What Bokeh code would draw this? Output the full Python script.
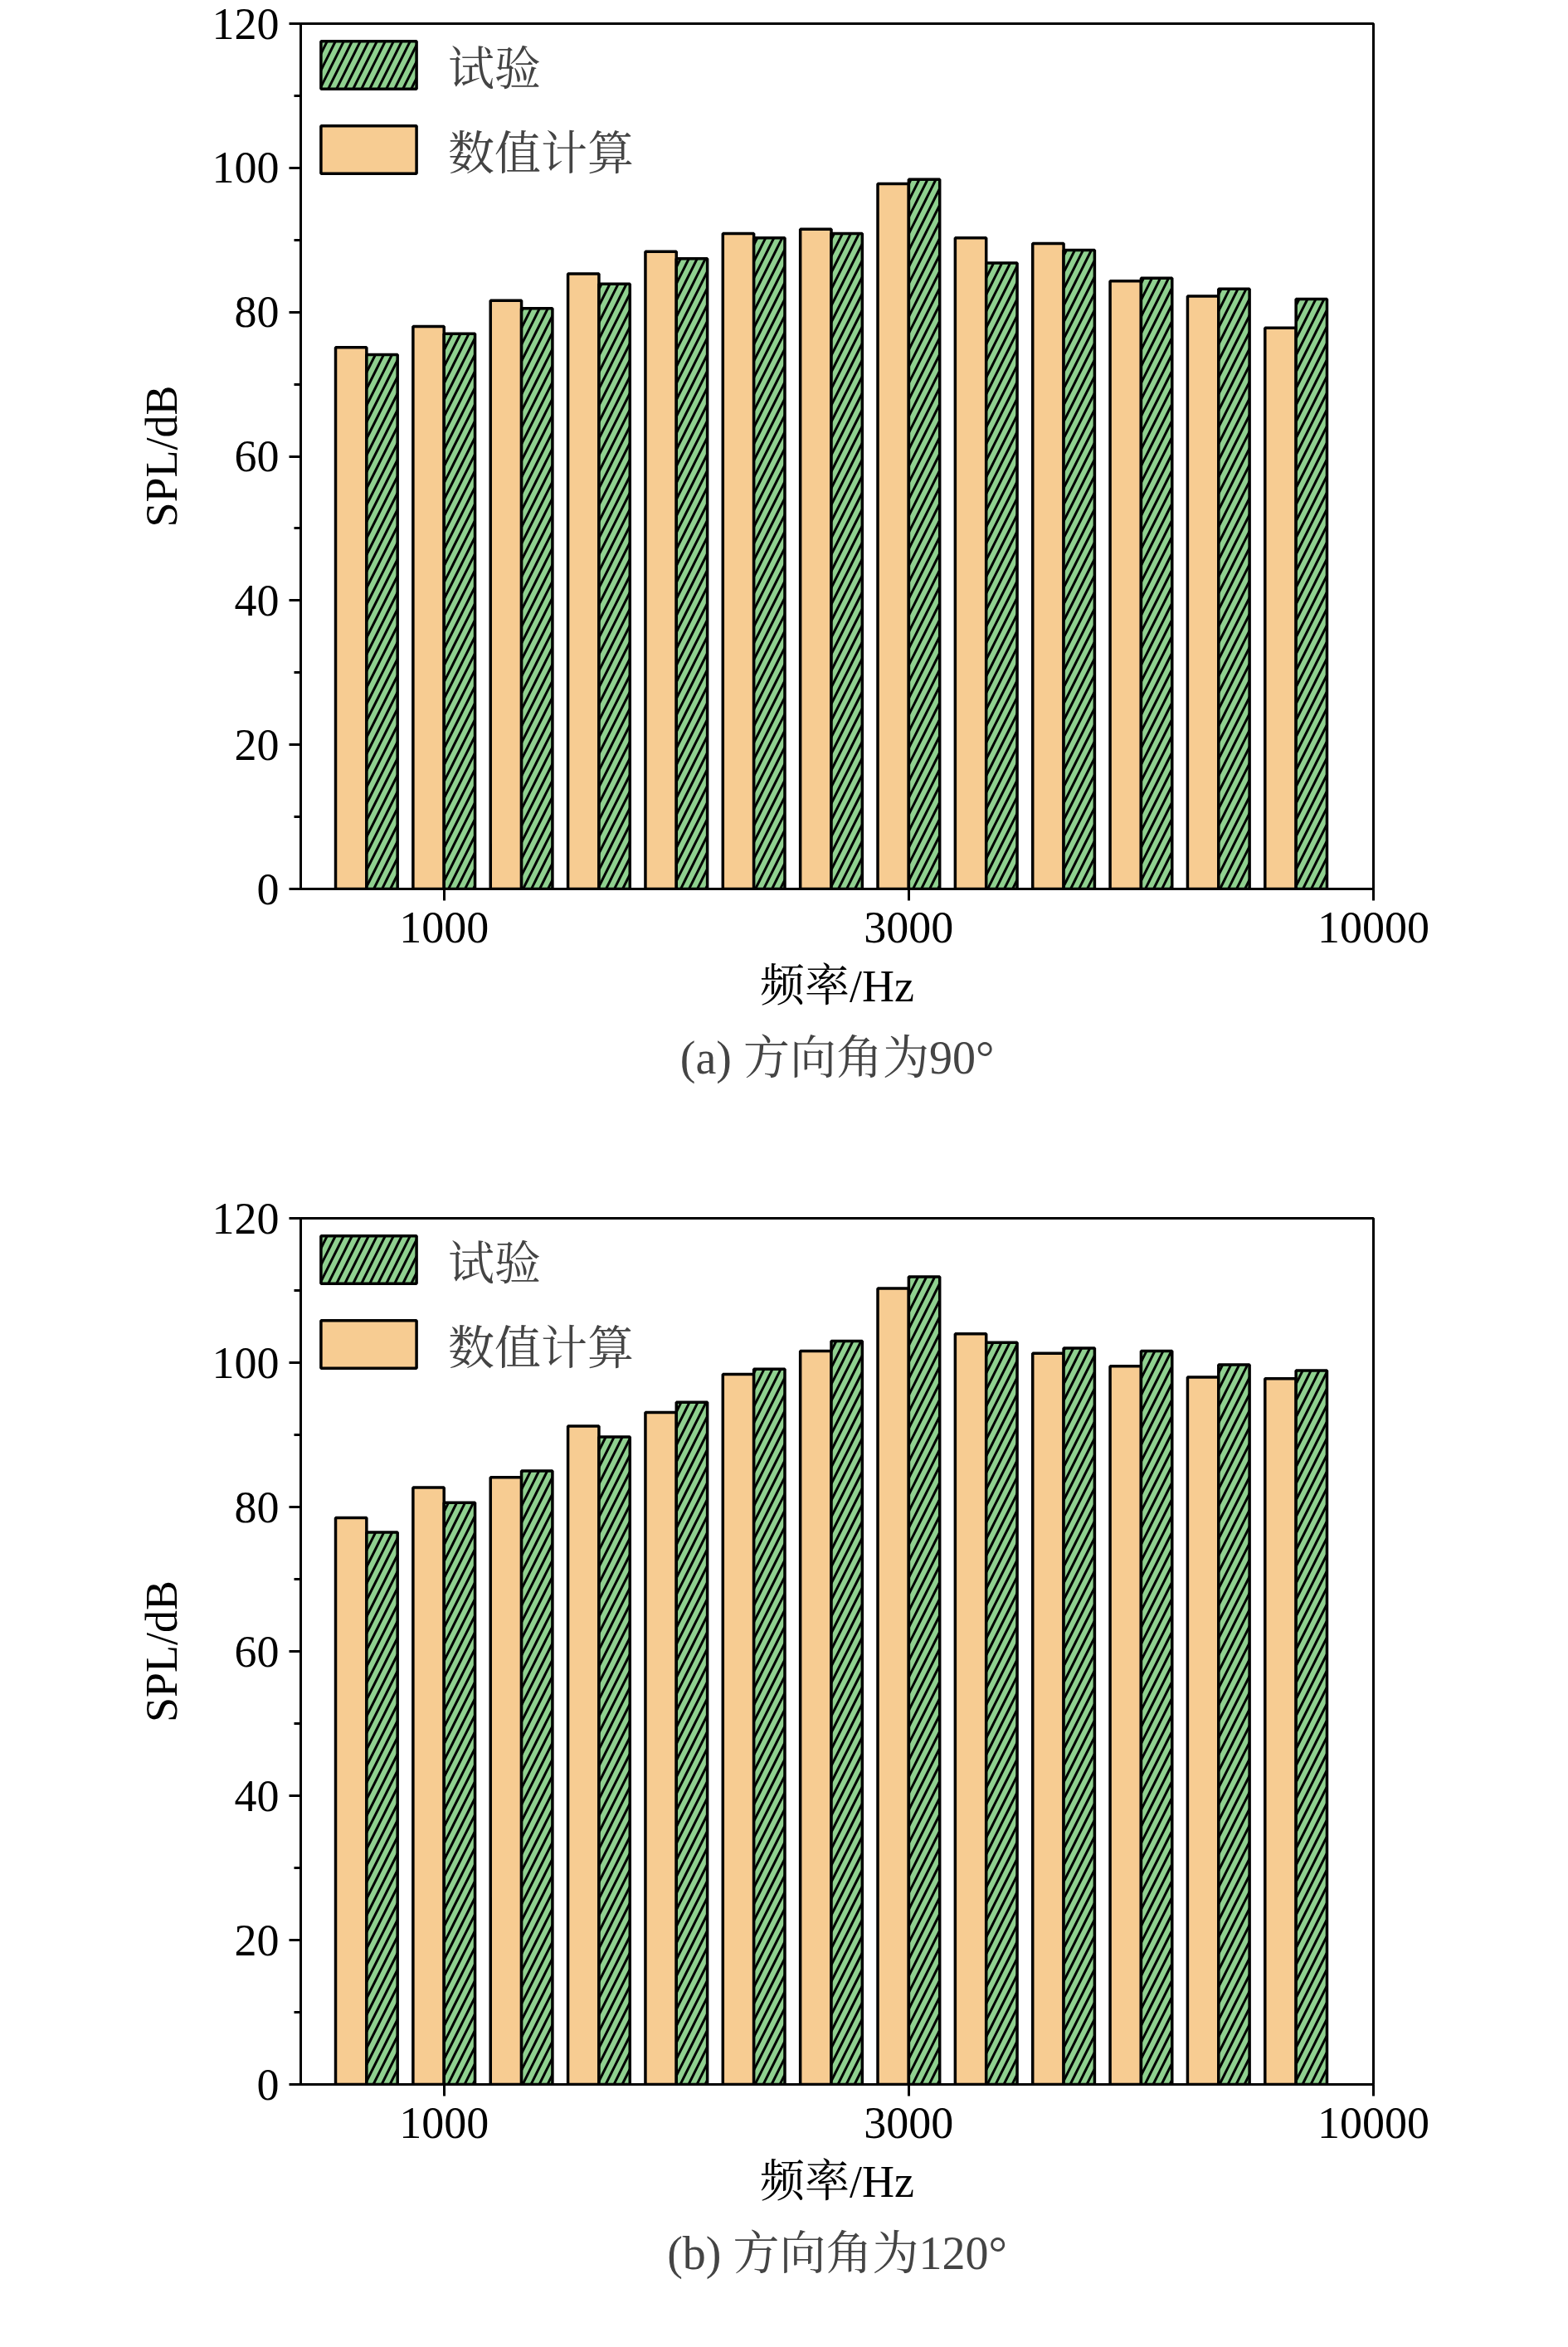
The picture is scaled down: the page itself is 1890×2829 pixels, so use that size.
from bokeh.plotting import figure
from bokeh.layouts import column
from bokeh.models import Legend, LegendItem, Title, FixedTicker, Range1d
from bokeh.embed import file_html
from bokeh.resources import INLINE

idx = list(range(13))
tick_pos = [1, 7, 13]
tick_labels = ["1000", "3000", "10000"]
calc_a = [75.1, 78.0, 81.6, 85.3, 88.4, 90.9, 91.5, 97.8, 90.3, 89.5, 84.3, 82.2, 77.8]
exp_a = [74.1, 77.0, 80.5, 83.9, 87.4, 90.3, 90.9, 98.4, 86.8, 88.6, 84.7, 83.2, 81.8]
calc_b = [78.5, 82.7, 84.1, 91.2, 93.1, 98.4, 101.6, 110.3, 104.0, 101.3, 99.5, 98.0, 97.8]
exp_b = [76.5, 80.6, 85.0, 89.7, 94.5, 99.1, 103.0, 111.9, 102.8, 102.0, 101.6, 99.7, 98.9]

FONT = "Liberation Serif, Noto Serif CJK SC, Noto Sans CJK SC"
ORANGE = "#F7CC92"
GREEN = "#8FD08F"

def make(calc, exp, caption, h, bottom):
    p = figure(width=1870, height=h, output_backend="svg", toolbar_location=None,
               x_range=Range1d(-0.85, 13.0), y_range=Range1d(0, 120),
               min_border_left=362, min_border_right=215, min_border_top=28,
               min_border_bottom=bottom)
    p.grid.visible = False
    p.outline_line_color = "black"
    p.outline_line_width = 3
    xc = [i - 0.2 for i in idx]
    xe = [i + 0.2 for i in idx]
    r_calc = p.vbar(x=xc, top=calc, width=0.4, fill_color=ORANGE, line_color="black", line_width=3.5)
    r_exp = p.vbar(x=xe, top=exp, width=0.4, fill_color=GREEN, line_color="black", line_width=3.5,
                   hatch_pattern="/", hatch_color="black", hatch_weight=3, hatch_scale=20)
    p.xaxis.ticker = FixedTicker(ticks=tick_pos)
    p.xaxis.major_label_overrides = {t: l for t, l in zip(tick_pos, tick_labels)}
    p.yaxis.ticker = FixedTicker(ticks=[0, 20, 40, 60, 80, 100, 120],
                                 minor_ticks=[10, 30, 50, 70, 90, 110])
    for ax in (p.xaxis[0], p.yaxis[0]):
        ax.axis_line_width = 3
        ax.major_tick_line_width = 3
        ax.minor_tick_line_width = 3
        ax.major_tick_out = 14
        ax.major_tick_in = 0
        ax.minor_tick_out = 8
        ax.minor_tick_in = 0
        ax.major_label_text_font = FONT
        ax.major_label_text_font_size = "54px"
        ax.major_label_text_color = "black"
        ax.axis_label_text_font = FONT
        ax.axis_label_text_font_size = "54px"
        ax.axis_label_text_font_style = "normal"
        ax.axis_label_text_color = "black"
    p.xaxis.minor_tick_line_color = None
    p.xaxis.axis_label = "频率/Hz"
    p.yaxis.axis_label = "SPL/dB"
    p.xaxis.major_label_standoff = 14
    p.xaxis.axis_label_standoff = 20
    p.yaxis.major_label_standoff = 12
    p.yaxis.axis_label_standoff = 28
    legend = Legend(items=[LegendItem(label="试验", renderers=[r_exp]),
                           LegendItem(label="数值计算", renderers=[r_calc])],
                    location="top_left", border_line_color=None, background_fill_alpha=0,
                    label_text_font=FONT, label_text_font_size="56px",
                    glyph_width=144, glyph_height=72, spacing=22, padding=20,
                    label_standoff=24, margin=10)
    p.add_layout(legend)
    t = Title(text=caption, align="center", text_font=FONT, text_font_size="56px",
              text_font_style="normal", standoff=40)
    p.add_layout(t, "below")
    return p

p1 = make(calc_a, exp_a, "(a) 方向角为90°", 1440, 369)
p2 = make(calc_b, exp_b, "(b) 方向角为120°", 1353, 281)
open("out.html", "w").write(file_html(column(p1, p2, spacing=0), INLINE))
